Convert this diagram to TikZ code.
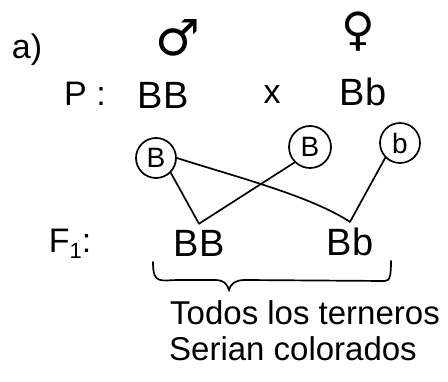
\documentclass[tikz,border=0pt]{standalone}
\usepackage{fontspec}
\setmainfont{Liberation Sans}
\newfontfamily\symfont{DejaVu Sans}
\begin{document}
\begin{tikzpicture}[x=1pt,y=-1pt,
  lbl/.style={inner sep=0pt,font=\fontsize{34}{36}\selectfont},
  geno/.style={inner sep=0pt,font=\fontsize{38}{40}\selectfont},
  gamete/.style={circle,draw,line width=1.7pt,minimum size=40pt,inner sep=0pt,font=\fontsize{28}{30}\selectfont},
  conn/.style={line width=1.7pt,line cap=round},
  note/.style={inner sep=0pt,font=\fontsize{33}{35}\selectfont}]
\useasboundingbox (0,0) rectangle (448,382);
\node[lbl] (a) at (27,50) {a)};
\node[inner sep=0pt,font=\symfont\fontsize{50}{52}\selectfont] (male) at (178,38) {♂};
\node[inner sep=0pt,font=\symfont\fontsize{46}{48}\selectfont] (female) at (358,32) {♀};
\node[lbl] (P) at (85,94) {P :};
\node[geno] (pBB) at (163,95) {BB};
\node[lbl] (cross) at (272,95) {x};
\node[geno] (pBb) at (363,92) {Bb};
\node[gamete] (g1) at (156,158) {B};
\node[gamete,minimum size=42pt] (g2) at (310,147) {B};
\node[gamete] (g3) at (400,143) {b};
\node[lbl] (F) at (70,244) {F\raisebox{-6pt}{\fontsize{22}{24}\selectfont 1}:};
\node[geno] (f1) at (199,243) {BB};
\node[geno] (f2) at (350,242) {Bb};
\coordinate (m1) at ([yshift=6pt]f1.north);
\coordinate (m2) at ([yshift=6pt]f2.north);
\draw[conn] (g1.south east) -- (m1);
\draw[conn] (g2.south west) -- (m1);
\draw[conn] (g1.east) .. controls (240,178) and (310,196) .. (m2);
\draw[conn] (g3.south west) -- (m2);
\coordinate (bl) at (153,262);
\coordinate (br) at (391,261);
\draw[conn] (bl) .. controls (153,285) and (160,280) .. (180,280) -- (215,280)
  .. controls (224,280) and (227,284) .. (229,290)
  .. controls (231,283) and (236,280) .. (245,280) -- (385,281)
  .. controls (390,281) and (391,275) .. (br);
\node[note] (t1) at (305,313) {Todos los terneros};
\node[note] (t2) at (293,349) {Serian colorados};
\end{tikzpicture}
\end{document}
